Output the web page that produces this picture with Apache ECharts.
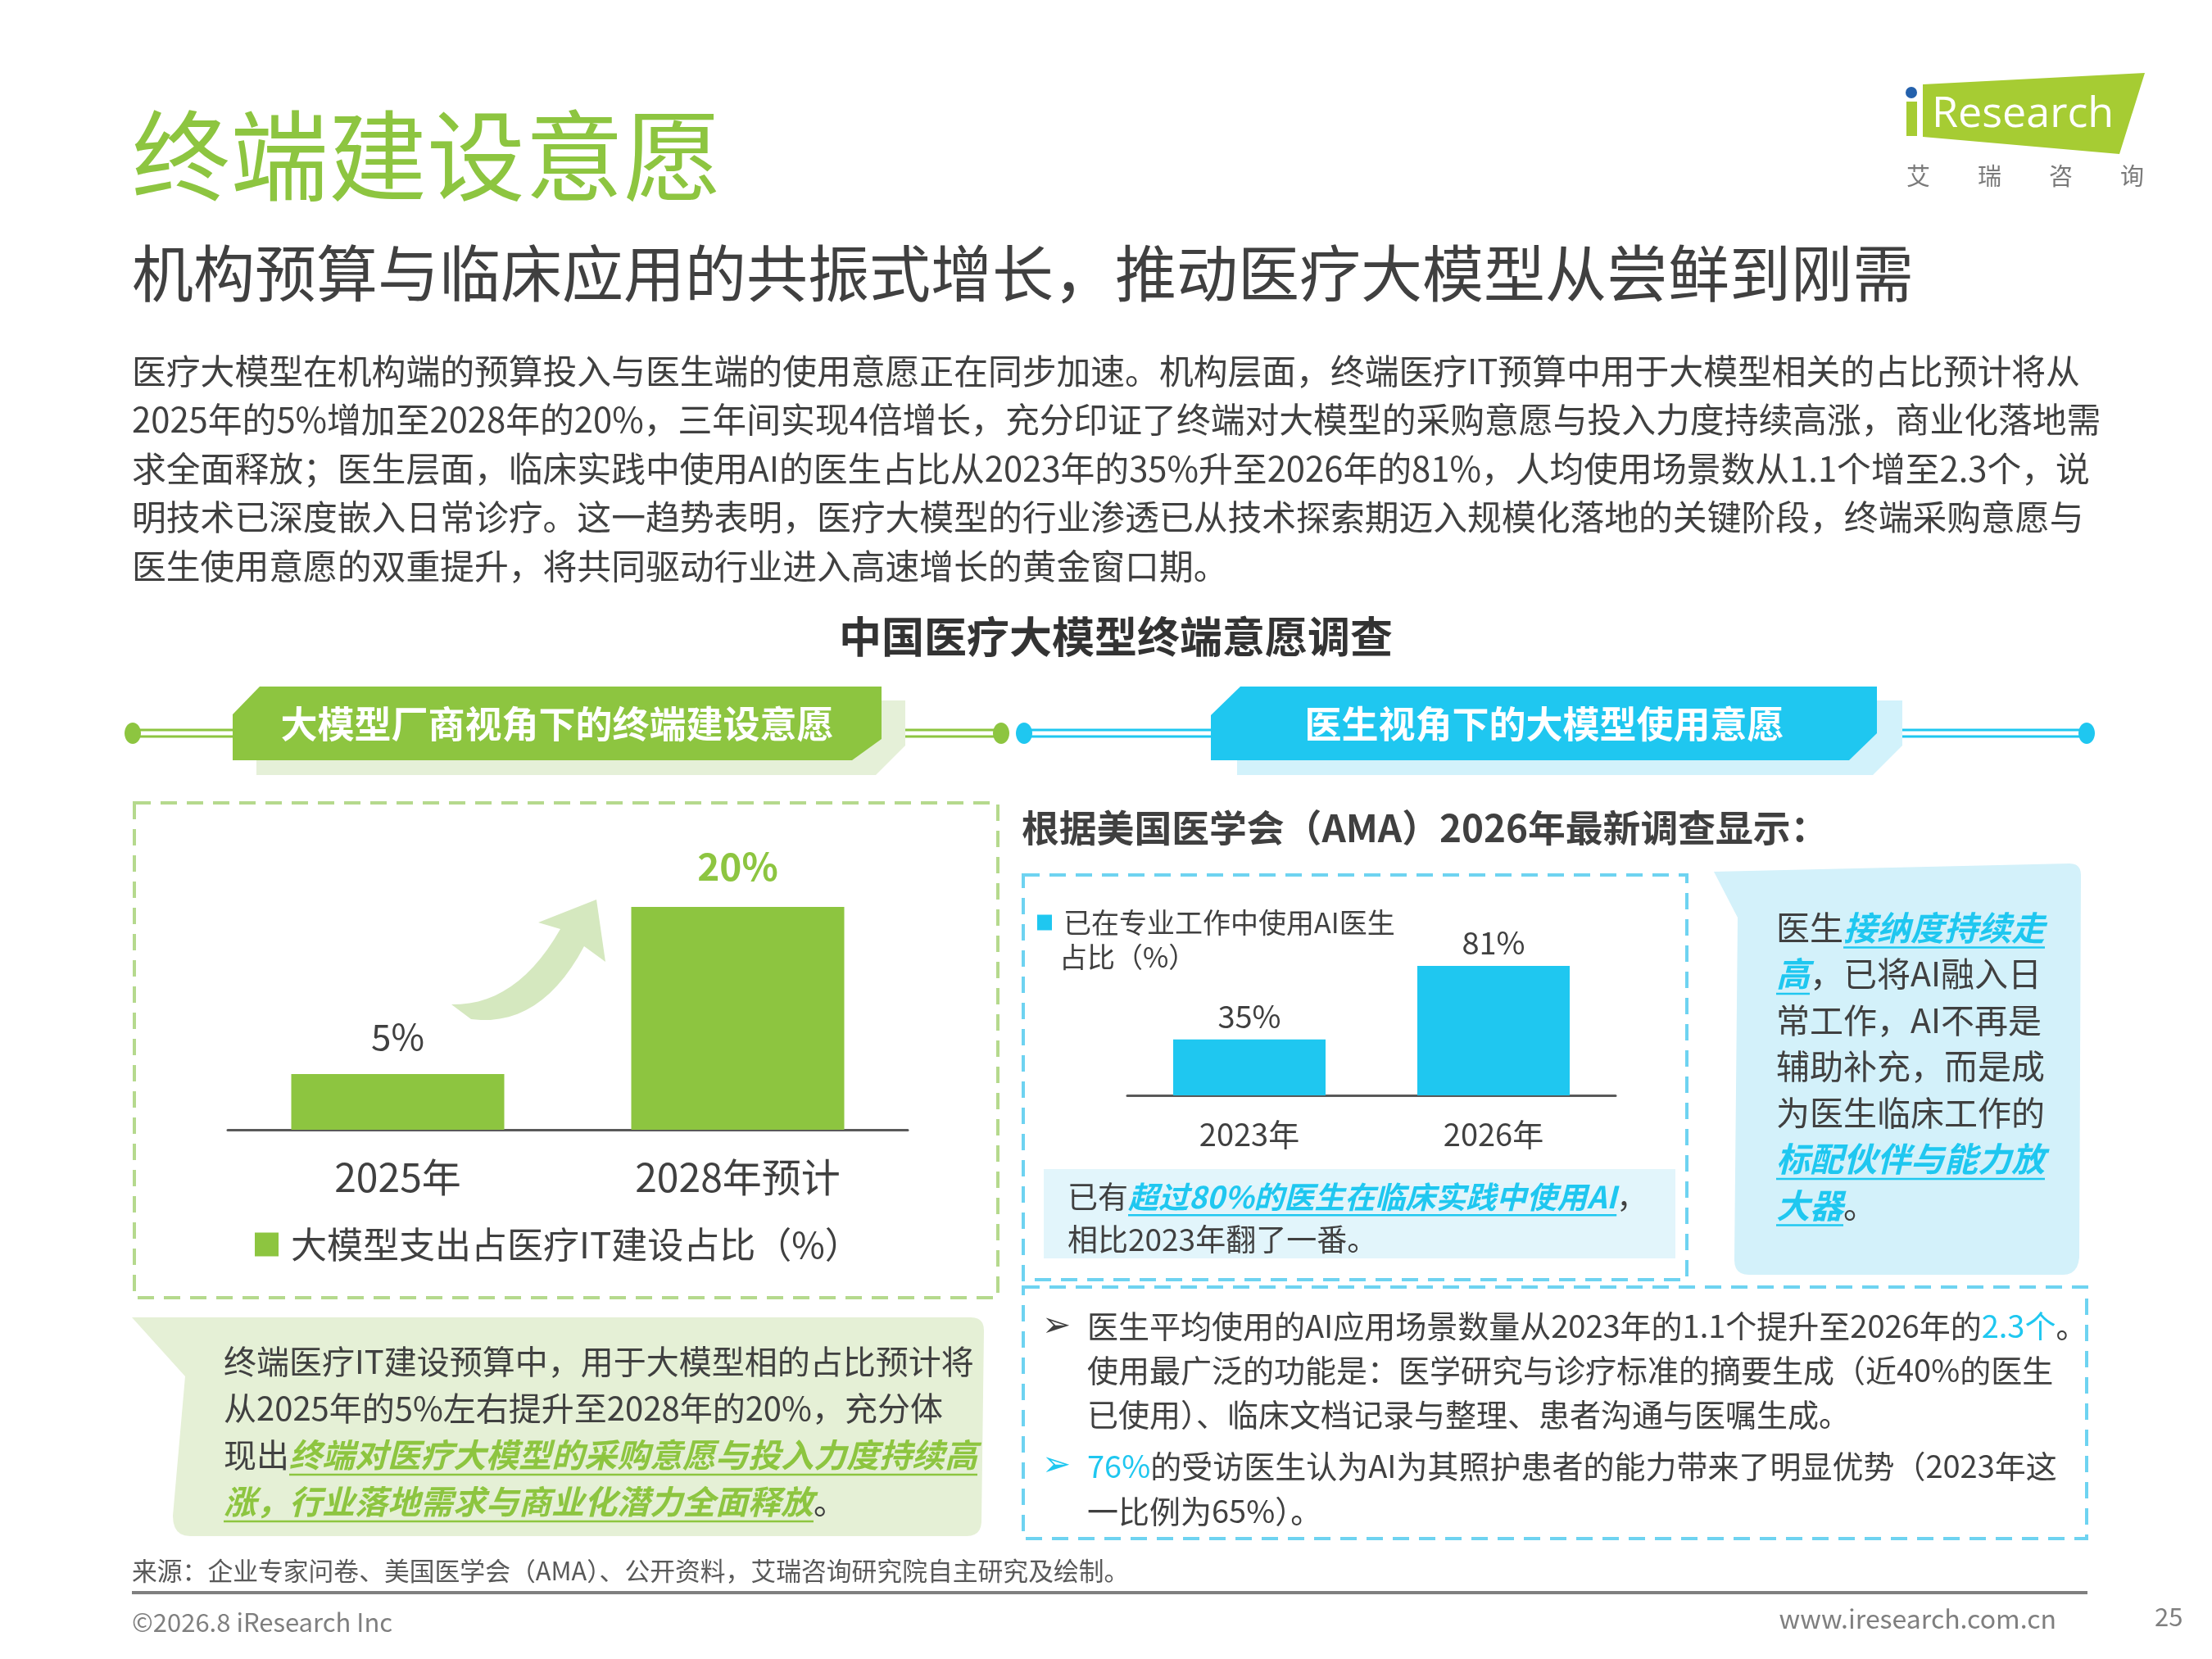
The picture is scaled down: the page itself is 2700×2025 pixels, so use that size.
<!DOCTYPE html>
<html><head><meta charset="utf-8">
<script src="https://cdn.jsdelivr.net/npm/echarts@6/dist/echarts.min.js"></script>
<style>html,body{margin:0;padding:0;background:#fff}#c{width:2700px;height:2025px}</style>
</head><body><div id="c"></div>
<script>
// ---------- data ----------
const leftCategories = ['2025年', '2028年预计'];
const leftValues = [5, 20];
const leftSeriesName = '大模型支出占医疗IT建设占比（%）';
const rightCategories = ['2023年', '2026年'];
const rightValues = [35, 81];
const rightSeriesName = '已在专业工作中使用AI医生占比（%）';

// ---------- texts ----------
const titleText = '终端建设意愿';
const subtitleText = '机构预算与临床应用的共振式增长，推动医疗大模型从尝鲜到刚需';
const bodyLines = [
  '医疗大模型在机构端的预算投入与医生端的使用意愿正在同步加速。机构层面，终端医疗IT预算中用于大模型相关的占比预计将从',
  '2025年的5%增加至2028年的20%，三年间实现4倍增长，充分印证了终端对大模型的采购意愿与投入力度持续高涨，商业化落地需',
  '求全面释放；医生层面，临床实践中使用AI的医生占比从2023年的35%升至2026年的81%，人均使用场景数从1.1个增至2.3个，说',
  '明技术已深度嵌入日常诊疗。这一趋势表明，医疗大模型的行业渗透已从技术探索期迈入规模化落地的关键阶段，终端采购意愿与',
  '医生使用意愿的双重提升，将共同驱动行业进入高速增长的黄金窗口期。'
];
const sectionTitle = '中国医疗大模型终端意愿调查';
const leftBanner = '大模型厂商视角下的终端建设意愿';
const rightBanner = '医生视角下的大模型使用意愿';
const rightHeading = '根据美国医学会（AMA）2026年最新调查显示：';
const leftNote = [
  [['终端医疗IT建设预算中，用于大模型相的占比预计将', 'n']],
  [['从2025年的5%左右提升至2028年的20%，充分体', 'n']],
  [['现出', 'n'], ['终端对医疗大模型的采购意愿与投入力度持续高', 'g']],
  [['涨，行业落地需求与商业化潜力全面释放', 'g'], ['。', 'n']]
];
const highlightLines = [
  [['已有', 'n'], ['超过80%的医生在临床实践中使用AI', 'c'], ['，', 'n']],
  [['相比2023年翻了一番。', 'n']]
];
const calloutLines = [
  [['医生', 'n'], ['接纳度持续走', 'c']],
  [['高', 'c'], ['，已将AI融入日', 'n']],
  [['常工作，AI不再是', 'n']],
  [['辅助补充，而是成', 'n']],
  [['为医生临床工作的', 'n']],
  [['标配伙伴与能力放', 'c']],
  [['大器', 'c'], ['。', 'n']]
];
const bulletLines = [
  [['医生平均使用的AI应用场景数量从2023年的1.1个提升至2026年的', 'n'], ['2.3个', 'cn'], ['。', 'n']],
  [['使用最广泛的功能是：医学研究与诊疗标准的摘要生成（近40%的医生', 'n']],
  [['已使用）、临床文档记录与整理、患者沟通与医嘱生成。', 'n']],
  [['76%', 'cn'], ['的受访医生认为AI为其照护患者的能力带来了明显优势（2023年这', 'n']],
  [['一比例为65%）。', 'n']]
];
const sourceText = '来源：企业专家问卷、美国医学会（AMA）、公开资料，艾瑞咨询研究院自主研究及绘制。';

// ---------- helpers ----------
const FF = '"Noto Sans CJK SC", "Noto Sans", sans-serif';
const G = '#8DC540', C = '#1FC7F0', T = '#404040';
const mctx = document.createElement('canvas').getContext('2d');
function tw(s, size, bold) { mctx.font = (bold ? 'bold ' : 'normal ') + size + 'px ' + FF; return mctx.measureText(s).width; }
function txt(x, y, s, size, fill, extra) {
  return { type: 'text', x: x, y: y, silent: true, z: 10,
    style: Object.assign({ text: s, fill: fill, fontSize: size, fontFamily: FF, align: 'left', verticalAlign: 'middle' }, extra || {}) };
}
const els = [];
function segLine(x, y, segs, size) {
  let cx = x;
  segs.forEach(function (sg) {
    const s = sg[0], kind = sg[1];
    const emph = kind === 'g' || kind === 'c';
    const col = kind === 'g' ? G : (kind === 'c' || kind === 'cn') ? C : T;
    els.push(txt(cx, y, s, size, col, { fontWeight: emph ? 'bold' : 'normal', fontStyle: emph ? 'italic' : 'normal' }));
    const w = tw(s, size, emph);
    if (emph) els.push({ type: 'line', silent: true, z: 10, shape: { x1: cx, y1: y + size * 0.6, x2: cx + w, y2: y + size * 0.6 }, style: { stroke: col, lineWidth: 2.5 } });
    cx += w;
  });
}
function quad(p0, p1, p2, n) {
  const pts = [];
  for (let i = 0; i <= n; i++) {
    const t = i / n, a = (1 - t) * (1 - t), b = 2 * t * (1 - t), c = t * t;
    pts.push([a * p0[0] + b * p1[0] + c * p2[0], a * p0[1] + b * p1[1] + c * p2[1]]);
  }
  return pts;
}
function poly(points, fill, z) { return { type: 'polygon', silent: true, z: z || 1, shape: { points: points }, style: { fill: fill } }; }

// ---------- decorations ----------
// logo
els.push(poly([[2347, 103], [2618, 89], [2587, 188], [2347, 167]], '#A6CC33'));
els.push({ type: 'rect', silent: true, z: 1, shape: { x: 2327, y: 124, width: 13, height: 42 }, style: { fill: '#A6CC33' } });
els.push({ type: 'circle', silent: true, z: 1, shape: { cx: 2333, cy: 113, r: 7 }, style: { fill: '#2461AC' } });
els.push(txt(2358, 140, 'Research', 52, '#fff', { fontFamily: '"Open Sans", sans-serif' }));
els.push(txt(2327, 215, '艾\u3000\u3000瑞\u3000\u3000咨\u3000\u3000询', 29, '#7A7A7A'));

// titles
els.push(txt(161, 190, titleText, 120, G));
els.push(txt(161, 333, subtitleText, 75, T));
bodyLines.forEach(function (l, i) { els.push(txt(161, 453 + i * 59.5, l, 41.8, T)); });
els.push(txt(1362, 777, sectionTitle, 52, '#333333', { align: 'center', fontWeight: 'bold' }));

// banners
els.push(poly([[313, 855], [1105, 855], [1105, 910], [1069, 946], [313, 946]], '#E5F0D8'));
els.push(poly([[317, 838], [1076, 838], [1076, 902], [1040, 928], [284, 928], [284, 872]], G, 2));
els.push(txt(680, 884, leftBanner, 45, '#fff', { align: 'center', fontWeight: 'bold' }));
els.push(poly([[1510, 855], [2322, 855], [2322, 910], [2286, 946], [1510, 946]], '#D2F2FB'));
els.push(poly([[1514, 838], [2291, 838], [2291, 895], [2257, 928], [1478, 928], [1478, 873]], C, 2));
els.push(txt(1885, 884, rightBanner, 45, '#fff', { align: 'center', fontWeight: 'bold' }));
function conn(x1, x2, col) {
  [891, 899].forEach(function (y) { els.push({ type: 'line', silent: true, z: 1, shape: { x1: x1, y1: y, x2: x2, y2: y }, style: { stroke: col, lineWidth: 3 } }); });
}
conn(162, 284, G); conn(1105, 1222, G); conn(1250, 1478, C); conn(2322, 2547, C);
[[162, G], [1222, G], [1250, C], [2547, C]].forEach(function (d) {
  els.push({ type: 'ellipse', silent: true, z: 3, shape: { cx: d[0], cy: 895, rx: 10, ry: 13 }, style: { fill: d[1] } });
});

// dashed boxes
function dbox(x, y, w, h, col) { els.push({ type: 'rect', silent: true, z: 1, shape: { x: x, y: y, width: w, height: h }, style: { fill: 'none', stroke: col, lineWidth: 4, lineDash: [20, 12] } }); }
dbox(164, 980, 1054, 604, '#B5D98D');
dbox(1249, 1068, 810, 494, '#6ED3F1');
dbox(1249, 1571, 1298, 307, '#6ED3F1');

// growth arrow
let arrow = quad([551, 1226], [630, 1228], [684, 1134], 14);
arrow = arrow.concat([[657, 1126], [728, 1098], [739, 1174], [713, 1155]]);
arrow = arrow.concat(quad([713, 1155], [660, 1255], [575, 1244], 14)).concat([[551, 1226]]);
els.push(poly(arrow, '#D5E8BF'));

// left callout
let lc = [[161, 1608], [1185, 1608]].concat(quad([1185, 1608], [1201, 1608], [1201, 1624], 6), [[1198, 1858]],
  quad([1198, 1858], [1197, 1875], [1180, 1875], 6), [[232, 1875]], quad([232, 1875], [211, 1875], [211, 1850], 6), [[226, 1680]]);
els.push(poly(lc, '#E5F0D6'));
leftNote.forEach(function (l, i) { segLine(273, 1662 + i * 57, l, 40); });

// right heading & legend 2nd line
els.push(txt(1247, 1011, rightHeading, 45.8, T, { fontWeight: 'bold' }));
els.push(txt(1293, 1168, '占比（%）', 34, T));

// highlight box
els.push({ type: 'rect', silent: true, z: 1, shape: { x: 1274, y: 1427, width: 771, height: 109 }, style: { fill: '#E2F5FB' } });
highlightLines.forEach(function (l, i) { segLine(1303, 1461 + i * 52, l, 37); });

// right callout
let rc = [[2092, 1064], [2526, 1054]].concat(quad([2526, 1054], [2540, 1054], [2540, 1068], 6), [[2538, 1535]],
  quad([2538, 1535], [2536, 1556], [2518, 1556], 6), [[2135, 1556]], quad([2135, 1556], [2117, 1556], [2117, 1538], 6), [[2121, 1120]]);
els.push(poly(rc, '#D3F1FA'));
calloutLines.forEach(function (l, i) { segLine(2168, 1132 + i * 56.5, l, 41); });

// bullets
els.push(txt(1272, 1620, '➢', 42, '#404040', { fontFamily: '"DejaVu Sans", sans-serif' }));
els.push(txt(1272, 1790, '➢', 42, C, { fontFamily: '"DejaVu Sans", sans-serif' }));
const bulletY = [1619, 1673, 1727, 1790, 1845];
bulletLines.forEach(function (l, i) { segLine(1327, bulletY[i], l, 38); });

// footer
els.push(txt(161, 1917, sourceText, 30.8, '#595959'));
els.push({ type: 'line', silent: true, z: 1, shape: { x1: 161, y1: 1944, x2: 2548, y2: 1944 }, style: { stroke: '#7F7F7F', lineWidth: 4 } });
els.push(txt(161, 1980, '©2026.8 iResearch Inc', 31, '#7F7F7F'));
els.push(txt(2510, 1976, 'www.iresearch.com.cn', 32, '#7F7F7F', { align: 'right' }));
els.push(txt(2630, 1973, '25', 31, '#7F7F7F'));

// ---------- chart ----------
const chart = echarts.init(document.getElementById('c'), null, { renderer: 'canvas', width: 2700, height: 2025 });
chart.setOption({
  backgroundColor: '#ffffff',
  animation: false,
  textStyle: { fontFamily: FF },
  grid: [
    { left: 278, top: 1039, width: 830, height: 340 },
    { left: 1376, top: 1142, width: 596, height: 195 }
  ],
  xAxis: [
    { gridIndex: 0, type: 'category', data: leftCategories, axisLine: { lineStyle: { color: '#595959', width: 3 } }, axisTick: { show: false },
      axisLabel: { fontSize: 48, color: T, margin: 34, fontFamily: FF } },
    { gridIndex: 1, type: 'category', data: rightCategories, axisLine: { lineStyle: { color: '#595959', width: 3 } }, axisTick: { show: false },
      axisLabel: { fontSize: 38, color: T, margin: 29, fontFamily: FF } }
  ],
  yAxis: [
    { gridIndex: 0, type: 'value', min: 0, max: 25, show: false, splitLine: { show: false } },
    { gridIndex: 1, type: 'value', min: 0, max: 100, show: false, splitLine: { show: false } }
  ],
  legend: [
    { data: [leftSeriesName], left: 306, top: 1492, icon: 'rect', itemWidth: 29, itemHeight: 29, selectedMode: false,
      formatter: function (n) { return '{a|' + n + '}'; },
      textStyle: { fontSize: 44, color: T, fontFamily: FF, rich: { a: { fontSize: 44, color: T, fontFamily: FF, padding: [0, 0, 0, 10] } } } },
    { data: [rightSeriesName], left: 1261, top: 1104, icon: 'rect', itemWidth: 18, itemHeight: 19, selectedMode: false,
      formatter: function (n) { return '{a|' + n.replace('占比（%）', '') + '}'; },
      textStyle: { fontSize: 34, color: T, fontFamily: FF, rich: { a: { fontSize: 34, color: T, fontFamily: FF, padding: [0, 0, 0, 9] } } } }
  ],
  series: [
    { name: leftSeriesName, type: 'bar', xAxisIndex: 0, yAxisIndex: 0, barWidth: 260, itemStyle: { color: G },
      label: { show: true, position: 'top', formatter: '{c}%', fontSize: 44, color: T, distance: 24, fontFamily: FF },
      data: leftValues.map(function (v, i) { return i === leftValues.length - 1 ? { value: v, label: { color: G, fontWeight: 'bold', fontSize: 46, distance: 26 } } : v; }) },
    { name: rightSeriesName, type: 'bar', xAxisIndex: 1, yAxisIndex: 1, barWidth: 186, itemStyle: { color: C },
      label: { show: true, position: 'top', formatter: '{c}%', fontSize: 38, color: T, distance: 9, fontFamily: FF },
      data: rightValues }
  ],
  graphic: { elements: els }
});
</script>
</body></html>
